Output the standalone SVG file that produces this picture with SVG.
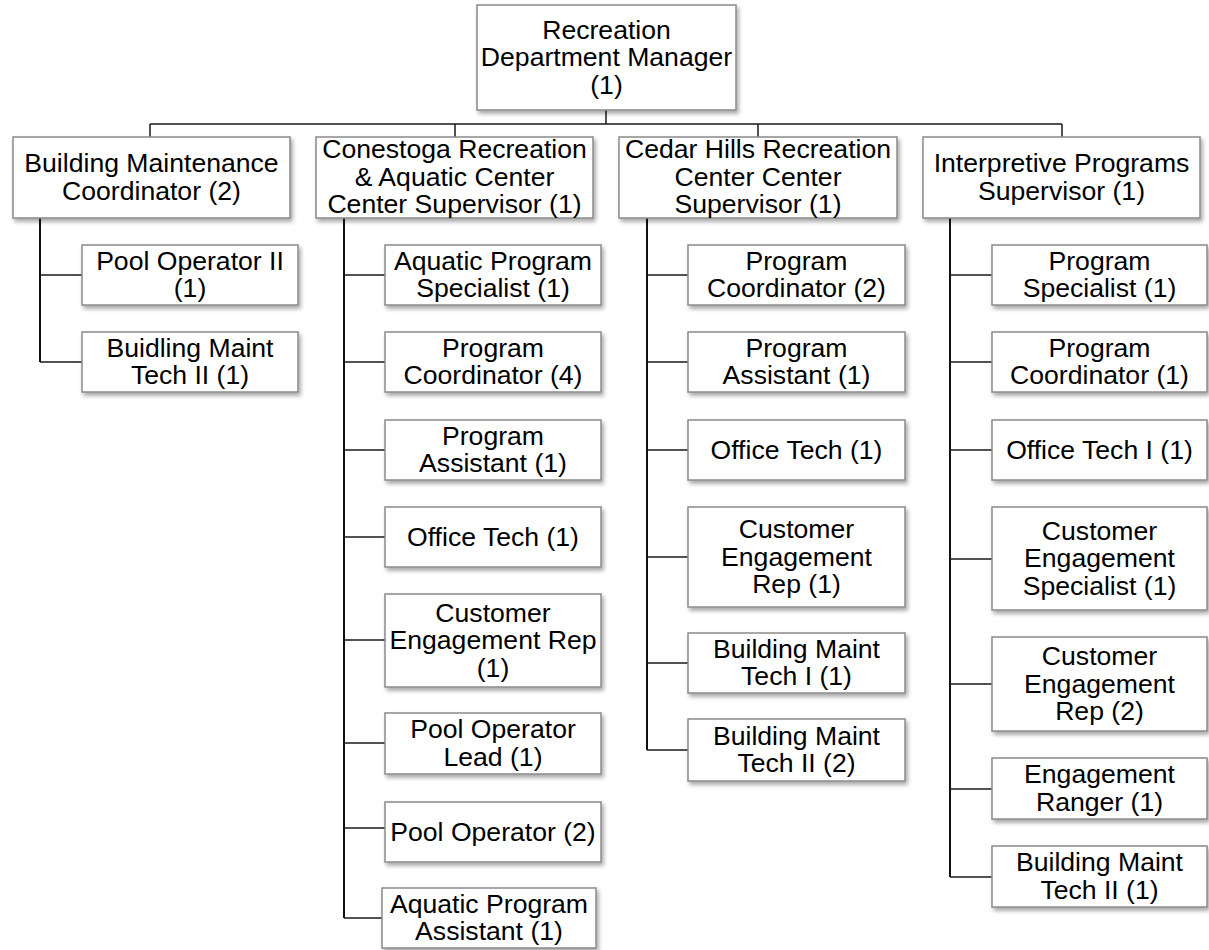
<svg xmlns="http://www.w3.org/2000/svg" width="1209" height="950" viewBox="0 0 1209 950">
  <defs>
    <filter id="shadow" x="-10%" y="-10%" width="125%" height="135%">
      <feDropShadow dx="2" dy="3" stdDeviation="2" flood-color="#000" flood-opacity="0.35"/>
    </filter>
  </defs>
  <style>
    .box { fill: #ffffff; stroke: #8a8a8a; stroke-width: 1.5; filter: url(#shadow); }
    .t { font-family: "Liberation Sans", Arial, sans-serif; font-size: 26.6px; fill: #000; text-anchor: middle; }
    .ln { stroke: #1a1a1a; stroke-width: 1.5; fill: none; }
    .vt { stroke: #111; stroke-width: 2; fill: none; }
  </style>
  <rect width="1209" height="950" fill="#ffffff"/>

  <!-- connectors -->
  <g id="connectors">
    <path class="ln" d="M606 110 V124 M150 124 H1062 M150 124 V137 M455 124 V137 M758 124 V137 M1062 124 V137"/>
    <!-- Building Maintenance branch -->
    <path class="vt" d="M40 218 V362"/>
    <path class="ln" d="M40 275 H82 M40 362 H82"/>
    <!-- Conestoga branch -->
    <path class="vt" d="M344 218 V918"/>
    <path class="ln" d="M344 275 H385 M344 362 H385 M344 450 H385 M344 537 H385 M344 640 H385 M344 743 H385 M344 828 H385 M344 918 H382"/>
    <!-- Cedar Hills branch -->
    <path class="vt" d="M647 218 V750"/>
    <path class="ln" d="M647 275 H688 M647 362 H688 M647 450 H688 M647 557 H688 M647 663 H688 M647 750 H688"/>
    <!-- Interpretive branch -->
    <path class="vt" d="M950 218 V877"/>
    <path class="ln" d="M950 275 H992 M950 362 H992 M950 450 H992 M950 559 H992 M950 684 H992 M950 789 H992 M950 877 H992"/>
  </g>

  <!-- top -->
  <g id="manager">
    <rect class="box" x="477" y="5" width="259" height="105"/>
    <text class="t" x="606.5" y="38.5">Recreation</text>
    <text class="t" x="606.5" y="66">Department Manager</text>
    <text class="t" x="606.5" y="93.5">(1)</text>
  </g>

  <!-- second level -->
  <g id="bm-coordinator">
    <rect class="box" x="13" y="137" width="277" height="81"/>
    <text class="t" x="151.5" y="172">Building Maintenance</text>
    <text class="t" x="151.5" y="199.5">Coordinator (2)</text>
  </g>
  <g id="conestoga-supervisor">
    <rect class="box" x="316" y="137" width="277" height="81"/>
    <text class="t" x="454.5" y="158">Conestoga Recreation</text>
    <text class="t" x="454.5" y="185.5">&amp; Aquatic Center</text>
    <text class="t" x="454.5" y="213">Center Supervisor (1)</text>
  </g>
  <g id="cedar-supervisor">
    <rect class="box" x="619" y="137" width="278" height="81"/>
    <text class="t" x="758" y="158">Cedar Hills Recreation</text>
    <text class="t" x="758" y="185.5">Center Center</text>
    <text class="t" x="758" y="213">Supervisor (1)</text>
  </g>
  <g id="interpretive-supervisor">
    <rect class="box" x="923" y="137" width="277" height="81"/>
    <text class="t" x="1061.5" y="172">Interpretive Programs</text>
    <text class="t" x="1061.5" y="199.5">Supervisor (1)</text>
  </g>

  <!-- Building Maintenance staff -->
  <g id="bm-pool-op-2">
    <rect class="box" x="82" y="245" width="216" height="60"/>
    <text class="t" x="190" y="269.5">Pool Operator II</text>
    <text class="t" x="190" y="297">(1)</text>
  </g>
  <g id="bm-maint-tech-2">
    <rect class="box" x="82" y="332" width="216" height="60"/>
    <text class="t" x="190" y="356.5">Buidling Maint</text>
    <text class="t" x="190" y="384">Tech II (1)</text>
  </g>

  <!-- Conestoga staff -->
  <g id="con-aquatic-specialist">
    <rect class="box" x="385" y="245" width="216" height="60"/>
    <text class="t" x="493" y="269.5">Aquatic Program</text>
    <text class="t" x="493" y="297">Specialist (1)</text>
  </g>
  <g id="con-program-coordinator">
    <rect class="box" x="385" y="332" width="216" height="60"/>
    <text class="t" x="493" y="356.5">Program</text>
    <text class="t" x="493" y="384">Coordinator (4)</text>
  </g>
  <g id="con-program-assistant">
    <rect class="box" x="385" y="420" width="216" height="60"/>
    <text class="t" x="493" y="444.5">Program</text>
    <text class="t" x="493" y="472">Assistant (1)</text>
  </g>
  <g id="con-office-tech">
    <rect class="box" x="385" y="507" width="216" height="60"/>
    <text class="t" x="493" y="545.5">Office Tech (1)</text>
  </g>
  <g id="con-customer-rep">
    <rect class="box" x="385" y="594" width="216" height="93"/>
    <text class="t" x="493" y="621.5">Customer</text>
    <text class="t" x="493" y="649">Engagement Rep</text>
    <text class="t" x="493" y="676.5">(1)</text>
  </g>
  <g id="con-pool-lead">
    <rect class="box" x="385" y="713" width="216" height="61"/>
    <text class="t" x="493" y="738">Pool Operator</text>
    <text class="t" x="493" y="765.5">Lead (1)</text>
  </g>
  <g id="con-pool-operator">
    <rect class="box" x="385" y="802" width="216" height="60"/>
    <text class="t" x="493" y="840.5">Pool Operator (2)</text>
  </g>
  <g id="con-aquatic-assistant">
    <rect class="box" x="382" y="888" width="214" height="60"/>
    <text class="t" x="489" y="912.5">Aquatic Program</text>
    <text class="t" x="489" y="940">Assistant (1)</text>
  </g>

  <!-- Cedar Hills staff -->
  <g id="ced-program-coordinator">
    <rect class="box" x="688" y="245" width="217" height="60"/>
    <text class="t" x="796.5" y="269.5">Program</text>
    <text class="t" x="796.5" y="297">Coordinator (2)</text>
  </g>
  <g id="ced-program-assistant">
    <rect class="box" x="688" y="332" width="217" height="60"/>
    <text class="t" x="796.5" y="356.5">Program</text>
    <text class="t" x="796.5" y="384">Assistant (1)</text>
  </g>
  <g id="ced-office-tech">
    <rect class="box" x="688" y="420" width="217" height="60"/>
    <text class="t" x="796.5" y="458.5">Office Tech (1)</text>
  </g>
  <g id="ced-customer-rep">
    <rect class="box" x="688" y="507" width="217" height="100"/>
    <text class="t" x="796.5" y="538">Customer</text>
    <text class="t" x="796.5" y="565.5">Engagement</text>
    <text class="t" x="796.5" y="593">Rep (1)</text>
  </g>
  <g id="ced-maint-tech-1">
    <rect class="box" x="688" y="633" width="217" height="60"/>
    <text class="t" x="796.5" y="657.5">Building Maint</text>
    <text class="t" x="796.5" y="685">Tech I (1)</text>
  </g>
  <g id="ced-maint-tech-2">
    <rect class="box" x="688" y="719" width="217" height="62"/>
    <text class="t" x="796.5" y="744.5">Building Maint</text>
    <text class="t" x="796.5" y="772">Tech II (2)</text>
  </g>

  <!-- Interpretive staff -->
  <g id="int-program-specialist">
    <rect class="box" x="992" y="245" width="215" height="60"/>
    <text class="t" x="1099.5" y="269.5">Program</text>
    <text class="t" x="1099.5" y="297">Specialist (1)</text>
  </g>
  <g id="int-program-coordinator">
    <rect class="box" x="992" y="332" width="215" height="60"/>
    <text class="t" x="1099.5" y="356.5">Program</text>
    <text class="t" x="1099.5" y="384">Coordinator (1)</text>
  </g>
  <g id="int-office-tech">
    <rect class="box" x="992" y="420" width="215" height="60"/>
    <text class="t" x="1099.5" y="458.5">Office Tech I (1)</text>
  </g>
  <g id="int-customer-specialist">
    <rect class="box" x="992" y="507" width="215" height="103"/>
    <text class="t" x="1099.5" y="539.5">Customer</text>
    <text class="t" x="1099.5" y="567">Engagement</text>
    <text class="t" x="1099.5" y="594.5">Specialist (1)</text>
  </g>
  <g id="int-customer-rep">
    <rect class="box" x="992" y="637" width="215" height="94"/>
    <text class="t" x="1099.5" y="665">Customer</text>
    <text class="t" x="1099.5" y="692.5">Engagement</text>
    <text class="t" x="1099.5" y="720">Rep (2)</text>
  </g>
  <g id="int-engagement-ranger">
    <rect class="box" x="992" y="758" width="215" height="61"/>
    <text class="t" x="1099.5" y="783">Engagement</text>
    <text class="t" x="1099.5" y="810.5">Ranger (1)</text>
  </g>
  <g id="int-maint-tech-2">
    <rect class="box" x="992" y="846" width="215" height="61"/>
    <text class="t" x="1099.5" y="871">Building Maint</text>
    <text class="t" x="1099.5" y="898.5">Tech II (1)</text>
  </g>
</svg>
